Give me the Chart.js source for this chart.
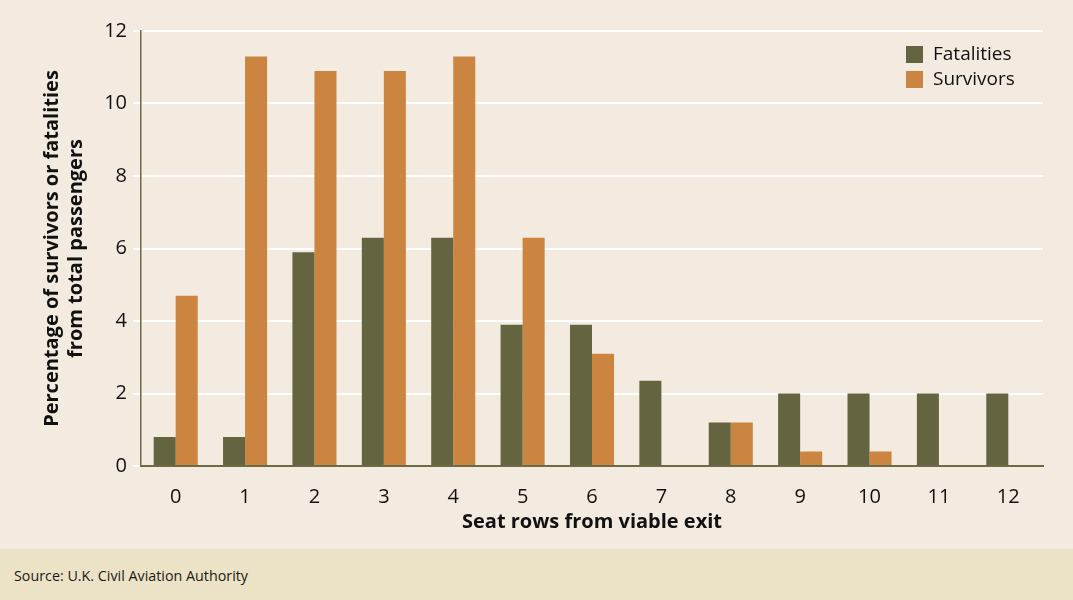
<!DOCTYPE html>
<html>
<head>
<meta charset="utf-8">
<script src="https://cdn.jsdelivr.net/npm/chart.js@4"></script>
<style>
    body { margin: 0; background: #f3ebdf; }
    #wrap { position: relative; width: 1073px; height: 549px; background: #f3ebdf; }
    #footer { width: 1073px; height: 51px; background: #ece2c6; font-family: "Open Sans", sans-serif;
        font-size: 14.3px; color: #1a1a1a; box-sizing: border-box; padding: 17px 0 0 14px; }
</style>
</head>
<body>
<div id="wrap"><canvas id="myChart" width="1073" height="549"></canvas></div>
<div id="footer">Source: U.K. Civil Aviation Authority</div>
<script>
const rows = ["0", "1", "2", "3", "4", "5", "6", "7", "8", "9", "10", "11", "12"];
const fatalities = [0.8, 0.8, 5.9, 6.3, 6.3, 3.9, 3.9, 2.35, 1.2, 2.0, 2.0, 2.0, 2.0];
const survivors = [4.7, 11.3, 10.9, 10.9, 11.3, 6.3, 3.1, 0, 1.2, 0.4, 0.4, 0, 0];
const yTicks = [0, 2, 4, 6, 8, 10, 12];

const fontName = "Open Sans";
const olive = "#646440";
const orange = "#cc8540";

// legend drawn inside the plot, top right
const cornerLegend = {
    id: "cornerLegend",
    afterDraw(chart) {
        let ctx = chart.ctx;
        ctx.save();
        ctx.font = "19px '" + fontName + "'";
        ctx.textBaseline = "middle";
        chart.data.datasets.forEach(function (ds, i) {
            let y = 46 + i * 25;
            ctx.fillStyle = ds.backgroundColor;
            ctx.fillRect(906, y, 17, 17);
            ctx.fillStyle = "#111111";
            ctx.fillText(ds.label, 933, y + 9);
        });
        ctx.restore();
    }
};

let myChart = new Chart("myChart", {
    type: "bar",
    data: {
        labels: rows,
        datasets: [{
            label: "Fatalities",
            backgroundColor: olive,
            data: fatalities
        }, {
            label: "Survivors",
            backgroundColor: orange,
            data: survivors
        }]
    },
    options: {
        responsive: false,
        animation: false,
        layout: { padding: { top: 31, right: 30, left: 0, bottom: 0 } },
        categoryPercentage: 0.635,
        barPercentage: 1,
        plugins: {
            legend: { display: false },
            tooltip: { enabled: false }
        },
        scales: {
            x: {
                afterFit(scale) { scale.height = 83; },
                grid: { display: false },
                border: { display: true, color: "#6b6b45", width: 2 },
                ticks: { color: "#111111", padding: 11, font: { family: fontName, size: 20 } },
                title: {
                    display: true,
                    text: "Seat rows from viable exit",
                    color: "#111111",
                    padding: { bottom: 15 },
                    font: { family: fontName, size: 20, weight: "bold" }
                }
            },
            y: {
                min: 0,
                max: 12,
                afterFit(scale) { scale.width = 141; },
                afterBuildTicks(scale) { scale.ticks = yTicks.map(v => ({ value: v })); },
                grid: { color: "#ffffff", lineWidth: 2, tickLength: 8, tickColor: "#ffffff" },
                border: { display: true, color: "#6b6b45", width: 1.5 },
                ticks: { color: "#111111", padding: 6, font: { family: fontName, size: 20 } },
                title: {
                    display: true,
                    text: ["Percentage of survivors or fatalities", "from total passengers"],
                    color: "#111111",
                    padding: { top: 40 },
                    font: { family: fontName, size: 20, weight: "bold" }
                }
            }
        }
    },
    plugins: [cornerLegend]
});
</script>
</body>
</html>
